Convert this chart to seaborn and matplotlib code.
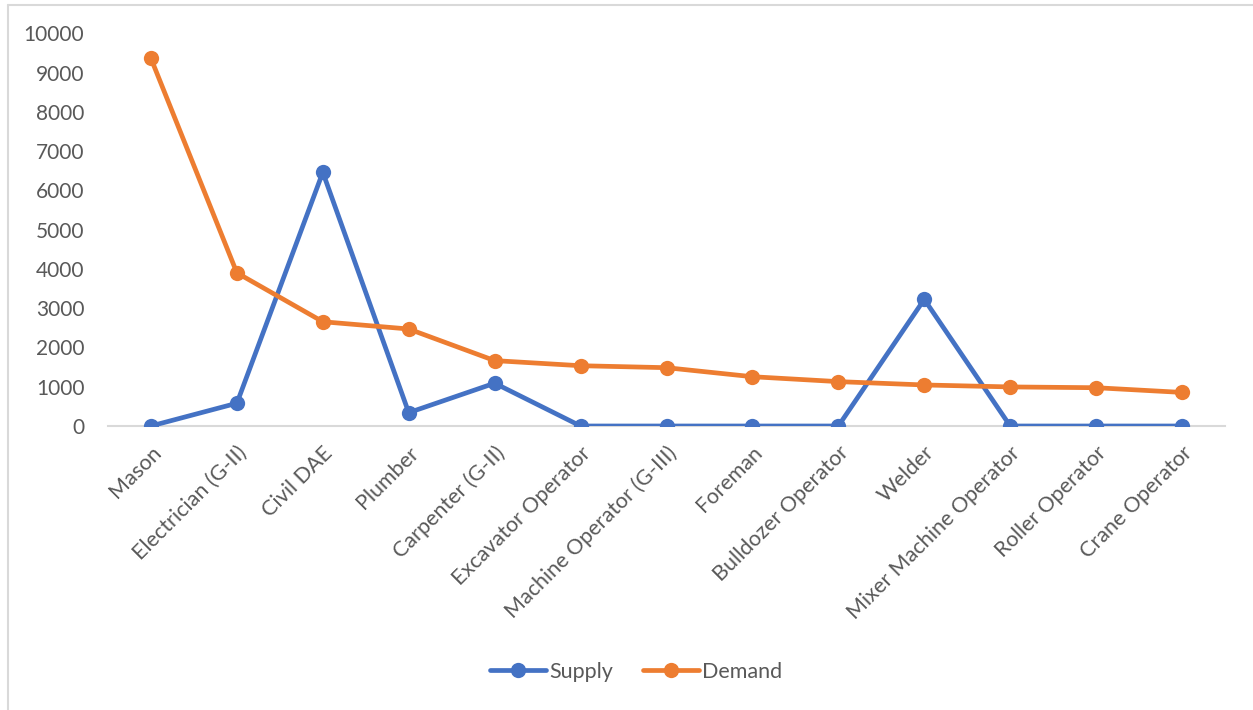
import matplotlib
matplotlib.use("Agg")
import matplotlib.pyplot as plt
from matplotlib.lines import Line2D
import seaborn as sns
import pandas as pd

categories = ["Mason", "Electrician (G-II)", "Civil DAE", "Plumber", "Carpenter (G-II)",
              "Excavator Operator", "Machine Operator (G-III)", "Foreman", "Bulldozer Operator",
              "Welder", "Mixer Machine Operator", "Roller Operator", "Crane Operator"]
supply = [0, 580, 6460, 340, 1090, 0, 0, 0, 0, 3225, 0, 0, 0]
demand = [9360, 3900, 2655, 2470, 1665, 1535, 1485, 1255, 1130, 1045, 995, 975, 855]
yticks = list(range(0, 10001, 1000))

df = pd.DataFrame({
    "Trade": categories * 2,
    "Value": supply + demand,
    "Series": ["Supply"] * len(categories) + ["Demand"] * len(categories),
})

sns.set_theme(style="white")
plt.rcParams["font.family"] = ["Lato", "DejaVu Sans"]
text_color = "#595959"
palette = {"Supply": "#4472C4", "Demand": "#ED7D31"}

fig = plt.figure(figsize=(12.53, 7.10), dpi=100)
ax = fig.add_axes([108 / 1253, 1 - 426 / 710, (1225 - 108) / 1253, (426 - 33.3) / 710])

sns.lineplot(data=df, x="Trade", y="Value", hue="Series", palette=palette,
             marker="o", markersize=11, markeredgewidth=0, linewidth=3.4,
             sort=False, ax=ax, legend=False)

ax.set_xlim(-0.5, len(categories) - 0.5)
ax.set_ylim(0, 10000)
ax.set_yticks(yticks)
ax.set_yticklabels([str(t) for t in yticks], fontsize=15, color=text_color)
ax.set_xticks(range(len(categories)))
ax.set_xticklabels(categories, rotation=45, ha="right", rotation_mode="anchor",
                   fontsize=15.5, color=text_color)
ax.tick_params(axis="both", length=0)
ax.tick_params(axis="y", pad=17)
ax.tick_params(axis="x", pad=12)
ax.set_xlabel("")
ax.set_ylabel("")
for side in ["top", "right", "left"]:
    ax.spines[side].set_visible(False)
ax.spines["bottom"].set_color("#D9D9D9")
ax.spines["bottom"].set_linewidth(1.5)
ax.spines["bottom"].set_zorder(0)
ax.grid(False)

# chart-area border (left and top edges)
fig.add_artist(Line2D([7.5 / 1253, 7.5 / 1253], [0, 1 - 4.5 / 710], color="#D9D9D9", lw=1.5))
fig.add_artist(Line2D([7.5 / 1253, 1], [1 - 4.5 / 710, 1 - 4.5 / 710], color="#D9D9D9", lw=1.5))

handles = [Line2D([0], [0], color=palette[s], marker="o", markersize=11, markeredgewidth=0,
                  linewidth=3.4, label=s) for s in ["Supply", "Demand"]]
leg = fig.legend(handles=handles, loc="center", bbox_to_anchor=(636 / 1253, 1 - 672 / 710),
                 ncol=2, frameon=False, fontsize=15.5, handlelength=2.6, handletextpad=0.15,
                 columnspacing=1.4)
for t in leg.get_texts():
    t.set_color(text_color)

fig.savefig("out.png", dpi=100)
